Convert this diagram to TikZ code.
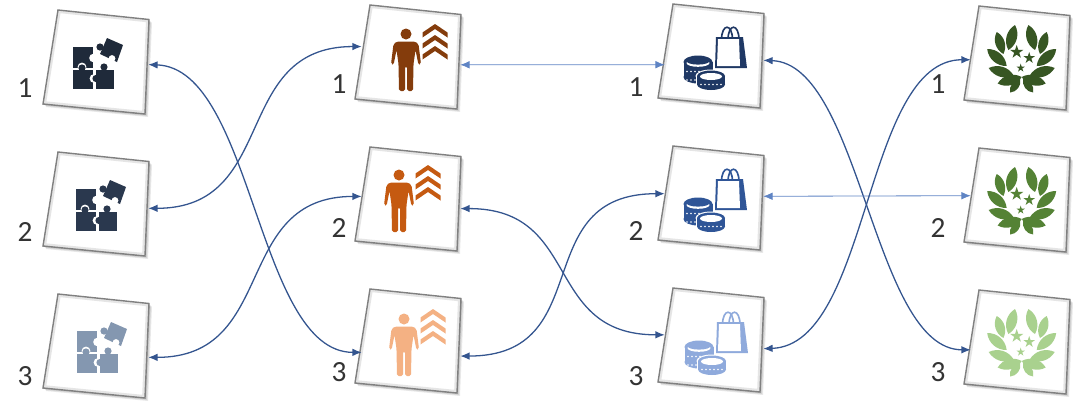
\documentclass[tikz,border=0pt]{standalone}
\usepackage{fontspec}
\setmainfont{Carlito}
\usetikzlibrary{arrows.meta}

\definecolor{puzzA}{HTML}{1F2A3A}
\definecolor{puzzB}{HTML}{2A384E}
\definecolor{puzzC}{HTML}{8497B0}
\definecolor{persA}{HTML}{843C0C}
\definecolor{persB}{HTML}{C55A11}
\definecolor{persC}{HTML}{F4B183}
\definecolor{bagA}{HTML}{1F3864}
\definecolor{bagB}{HTML}{2F5597}
\definecolor{bagC}{HTML}{8FAADC}
\definecolor{leafA}{HTML}{375623}
\definecolor{leafB}{HTML}{548235}
\definecolor{leafC}{HTML}{A9D18E}
\definecolor{linkA}{HTML}{34558F}
\definecolor{linkB}{HTML}{5F84C4}

\tikzset{
  cardnode/.style={rectangle,inner sep=0pt,minimum width=2.94cm,minimum height=3cm},
  numlabel/.style={inner sep=0pt,text=black!80,font=\fontsize{25}{25}\selectfont},
  link/.style={<->,>={Latex[length=8pt,width=6.5pt]},color=linkA,line width=1.1pt},
  flatlink/.style={<->,>={Latex[length=8pt,width=6.5pt]},color=linkB,line width=0.7pt},
  puzzle/.pic={
    \fill (15,37) rectangle (35,57.5);
    \fill[white] (35.5,48) circle (4.3);
    \fill[white] (24,57) circle (4.4);
    \fill (15,59.5) rectangle (35,79);
    \fill (24,58) circle (3.6);
    \fill[white] (36,68.5) circle (4.4);
    \fill (38,60) rectangle (56,79);
    \fill (38,68.5) circle (3.6);
    \fill (46,57) circle (3.6);
    \fill (49,28) -- (65,35) -- (59,52) -- (42,44) -- cycle;
    \fill (42,37) circle (3.6);
    \fill[white] (54,48.5) circle (3.4);
  },
  person/.pic={
    \fill (0,0) circle (5.5);
    \fill[rounded corners=1.5pt] (-9,7.5) -- (9,7.5) -- (12.5,10) -- (15,30) -- (12.5,31)
      -- (9.5,16) -- (7.5,30) -- (7,57) -- (1,57) -- (1,32) -- (-1,32) -- (-1,57) -- (-7,57)
      -- (-7.5,30) -- (-9.5,16) -- (-12.5,31) -- (-15,30) -- (-12.5,10) -- cycle;
    \foreach \t in {-10,1,12}
      \fill (29,\t) -- (41.5,\t+8.5) -- (41.5,\t+13.5) -- (29,\t+5)
        -- (16.5,\t+13.5) -- (16.5,\t+8.5) -- cycle;
  },
  shopping/.pic={
    % bag
    \draw[line width=1.4pt] (48.5,36) .. controls (48.5,19) and (59.5,19) .. (59.5,36);
    \draw[line width=1.4pt] (55,36) .. controls (55,19) and (66,19) .. (66,36);
    \fill (43,33) -- (70,33) -- (74,64) -- (42,64) -- cycle;
    \fill[white] (45,35) -- (66,35) -- (67,62) -- (44,62) -- cycle;
    % left coins
    \fill (25,58) circle [x radius=14.5,y radius=6.5];
    \fill (10.5,58) rectangle (39.5,73);
    \fill (25,73) circle [x radius=14.5,y radius=6.5];
    \fill[white] (25,59) circle [x radius=11.5,y radius=3.8];
    \fill (25,57) circle [x radius=11.5,y radius=3.6];
    \foreach \d in {14,18,...,34} {
      \fill[white] (\d,67.5) circle (0.8);
      \fill[white] (\d,76) circle (0.8);
    }
    % right coins
    \fill[white] (38,72) circle [x radius=15.5,y radius=6.5];
    \fill[white] (22.5,72) rectangle (53.5,82);
    \fill[white] (38,81) circle [x radius=15.5,y radius=6.5];
    \fill (38,72) circle [x radius=14,y radius=5.5];
    \fill (24,72) rectangle (52,80.5);
    \fill (38,80.5) circle [x radius=14,y radius=5.5];
    \fill[white] (38,72.5) circle [x radius=11,y radius=3.5];
    \foreach \d in {28,32,...,48}
      \fill[white] (\d,80.5) circle (0.8);
  },
  laurel/.pic={
    \foreach \m in {1,-1} {
      \begin{scope}[xscale=\m]
        \fill (13.3,44) to[bend left=44] (6.7,19) to[bend left=44] (13.3,44);
        \fill (18.3,48) to[bend left=44] (25,26) to[bend left=44] (18.3,48);
        \fill (15,60) to[bend left=42] (34.5,43) to[bend left=42] (15,60);
        \fill (8,69.5) to[bend left=42] (33,62) to[bend left=42] (8,69.5);
        \fill (0,71) to[bend left=44] (24,77.5) to[bend left=44] (0,71);
        \fill (1.5,73) to[bend left=50] (11.5,86.5) to[bend left=50] (1.5,73);
      \end{scope}
    }
    \foreach \sx/\sy/\r in {-5/46/7,7.5/52/6,-1/62/4.4}
      \fill[shift={(\sx,\sy)}] (-90:\r) -- (54:\r) -- (198:\r) -- (342:\r) -- (126:\r) -- cycle;
  },
}

\newcommand{\cardquad}{(0,0) -- (91,9.5) -- (87,104) -- (-15,94) -- cycle}
% card: name, top left x, top left y
\newcommand{\card}[3]{
  \begin{scope}[shift={(#2,#3)}]
    \foreach \s in {1,2,3}
      \fill[black,opacity=0.09,shift={(\s,\s)}] \cardquad;
    \fill[white] \cardquad;
    \begin{scope}
      \clip \cardquad;
      \draw[black!10,line width=5pt] \cardquad;
    \end{scope}
    \draw[black!50,line width=1.2pt] \cardquad;
  \end{scope}
  \node[cardnode] (#1) at (#2+41,#3+52) {};
}

\begin{document}
\begin{tikzpicture}[x=0.03cm,y=-0.03cm]
  \useasboundingbox (0,0) rectangle (1080,410);

  \card{pz1}{58}{10}
  \card{pz2}{58}{152}
  \card{pz3}{58}{294}
  \pic[color=puzzA] at (58,10) {puzzle};
  \pic[color=puzzB] at (61,152) {puzzle};
  \pic[color=puzzC] at (62,294) {puzzle};
  \node[numlabel] (n1) at (25,88) {1};
  \node[numlabel] (n2) at (25,232) {2};
  \node[numlabel] (n3) at (25,376) {3};

  \card{pr1}{370}{5}
  \card{pr2}{370}{147}
  \card{pr3}{370}{289}
  \pic[color=persA] at (406,34) {person};
  \pic[color=persB] at (399,175) {person};
  \pic[color=persC] at (404,319) {person};
  \node[numlabel] (n4) at (339,84) {1};
  \node[numlabel] (n5) at (339,228) {2};
  \node[numlabel] (n6) at (339,372) {3};

  \card{bg1}{673}{4}
  \card{bg2}{673}{146}
  \card{bg3}{673}{288}
  \pic[color=bagA] at (673,4) {shopping};
  \pic[color=bagB] at (673,146) {shopping};
  \pic[color=bagC] at (674,289) {shopping};
  \node[numlabel] (n7) at (636,87) {1};
  \node[numlabel] (n8) at (636,231) {2};
  \node[numlabel] (n9) at (636,376) {3};

  \card{lr1}{979}{6}
  \card{lr2}{979}{148}
  \card{lr3}{979}{290}
  \pic[color=leafA] at (1021.7,6) {laurel};
  \pic[color=leafB] at (1021.7,148) {laurel};
  \pic[color=leafC] at (1021.7,290) {laurel};
  \node[numlabel] (n10) at (938,84) {1};
  \node[numlabel] (n11) at (938,228) {2};
  \node[numlabel] (n12) at (938,372) {3};

  \path[link] (pz1.-3) edge[out=-2,in=180,looseness=0.75] (pr3.193);
  \path[link] (pz2.-5) edge[out=0,in=180,looseness=1.25] (pr1.168);
  \path[link] (pz3.-13) edge[out=0,in=180,looseness=1.25] (pr2.177);
  \path[flatlink] (pr1.-9) edge (bg1.190);
  \path[link] (pr2.-11) edge[out=0,in=180,looseness=1.3] (bg3.174);
  \path[link] (pr3.-17) edge[out=0,in=180,looseness=1.36] (bg2.175);
  \path[link] (bg1.-5) edge[out=-2,in=180,looseness=0.7] (lr3.189);
  \path[flatlink] (bg2.2) edge (lr2.175);
  \path[link] (bg3.-10) edge[out=2,in=180,looseness=0.77] (lr1.182);
\end{tikzpicture}
\end{document}
